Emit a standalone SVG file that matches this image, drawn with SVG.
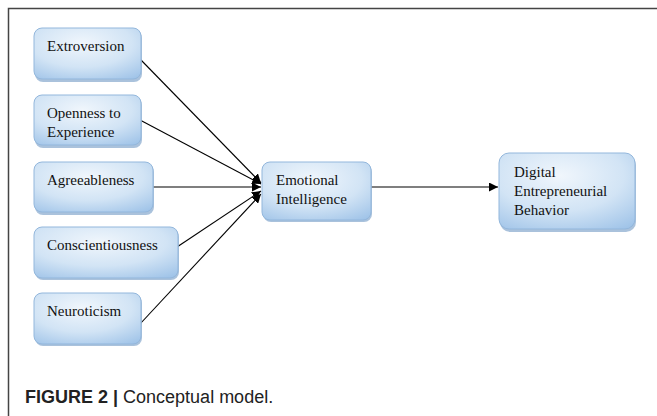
<svg xmlns="http://www.w3.org/2000/svg" width="657" height="416" viewBox="0 0 657 416">
<style>
.box{fill:url(#g);stroke:#93b7dc;stroke-width:1}
.sh{fill:#8eaed0;opacity:0.75}
.t{font-family:"Liberation Serif","Times New Roman",serif;font-size:15px;fill:#111}
.c{stroke:#000;stroke-width:1.1;fill:none;marker-end:url(#a)}
.cap{font-family:"Liberation Sans",Arial,sans-serif;font-size:18px;fill:#222}
</style>
<defs>
<radialGradient id="g" cx="0.45" cy="0.3" r="0.85">
<stop offset="0" stop-color="#f0f6fc"/>
<stop offset="0.55" stop-color="#d2e4f5"/>
<stop offset="1" stop-color="#9fc3e8"/>
</radialGradient>
<marker id="a" viewBox="0 0 10 10" refX="10" refY="5" markerWidth="9" markerHeight="9" markerUnits="userSpaceOnUse" orient="auto">
<path d="M0,0 L10,5 L0,10 z" fill="#000"/>
</marker>
</defs>
<rect width="657" height="416" fill="#fff"/>
<path d="M8.5,416 V8.5 H657" fill="none" stroke="#444" stroke-width="1.5"/>
<g id="connectors">
<line class="c" x1="141" y1="60" x2="261" y2="183"/>
<line class="c" x1="140" y1="120" x2="261" y2="184"/>
<line class="c" x1="152" y1="187" x2="261" y2="187"/>
<line class="c" x1="171" y1="251" x2="261" y2="191"/>
<line class="c" x1="140" y1="324" x2="261" y2="194"/>
<line class="c" x1="371" y1="187" x2="498" y2="187"/>
</g>
<g id="extroversion">
<rect class="sh" x="35" y="30" width="107" height="52" rx="8"/>
<rect class="box" x="34" y="28" width="107" height="51" rx="8"/>
<text class="t" x="47" y="51">Extroversion</text>
</g>
<g id="openness">
<rect class="sh" x="35" y="97" width="107" height="51" rx="8"/>
<rect class="box" x="34" y="95" width="107" height="50" rx="8"/>
<text class="t" x="47" y="118">Openness to</text>
<text class="t" x="47" y="137">Experience</text>
</g>
<g id="agreeableness">
<rect class="sh" x="35" y="164" width="119" height="51" rx="8"/>
<rect class="box" x="34" y="162" width="119" height="50" rx="8"/>
<text class="t" x="47" y="185">Agreeableness</text>
</g>
<g id="conscientiousness">
<rect class="sh" x="35" y="229" width="144" height="51" rx="8"/>
<rect class="box" x="34" y="227" width="144" height="51" rx="8"/>
<text class="t" x="47" y="250">Conscientiousness</text>
</g>
<g id="neuroticism">
<rect class="sh" x="35" y="295" width="107" height="51" rx="8"/>
<rect class="box" x="34" y="293" width="107" height="51" rx="8"/>
<text class="t" x="47" y="316">Neuroticism</text>
</g>
<g id="emotional-intelligence">
<rect class="sh" x="263" y="164" width="109" height="58" rx="8"/>
<rect class="box" x="262" y="162" width="109" height="58" rx="8"/>
<text class="t" x="276" y="185">Emotional</text>
<text class="t" x="276" y="204">Intelligence</text>
</g>
<g id="digital-entrepreneurial-behavior">
<rect class="sh" x="500" y="155" width="136" height="77" rx="10"/>
<rect class="box" x="499" y="153" width="136" height="76" rx="10"/>
<text class="t" x="514" y="177">Digital</text>
<text class="t" x="514" y="196">Entrepreneurial</text>
<text class="t" x="514" y="215">Behavior</text>
</g>
<text class="cap" x="25" y="403"><tspan font-weight="bold">FIGURE 2 |</tspan> Conceptual model.</text>
</svg>
